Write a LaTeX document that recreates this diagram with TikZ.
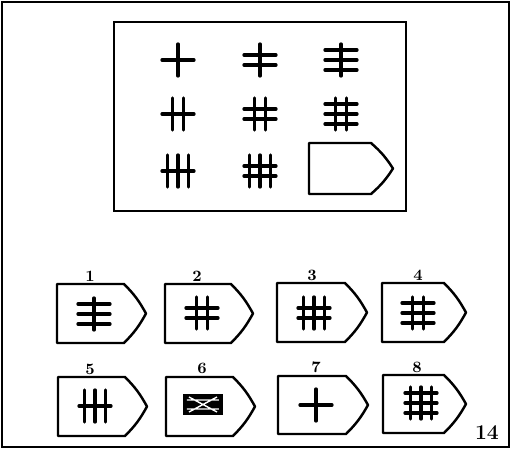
\documentclass[tikz,border=0pt]{standalone}
\usepackage{tikz}
\usetikzlibrary{calc}

\tikzset{
  symline/.style={line width=1.9pt, line cap=round},
  tagline/.style={line width=1.4pt, line join=round},
  numlabel/.style={font=\bfseries\small, inner sep=0pt}
}

% strokes: centre x, centre y, vertical count, horizontal count
\newcommand{\hashsym}[4]{%
  \foreach \i in {1,...,#3}
    \draw[symline] ({#1+(\i-(#3+1)/2)*10.5},{#2-16}) -- ++(0,32);
  \foreach \j in {1,...,#4}
    \draw[symline] ({#1-16},{#2+(\j-(#4+1)/2)*10}) -- ++(32,0);
}
% tag shaped box: left, top, width, height
\newcommand{\tagbox}[4]{%
  \draw[tagline] (#1,#2) -- ({#1+#3-22},#2) to[bend left=8] ({#1+#3},{#2+#4/2})
    to[bend left=8] ({#1+#3-22},{#2+#4}) -- (#1,{#2+#4}) -- cycle;
}

\begin{document}
\begin{tikzpicture}[x=0.02cm,y=-0.02cm]
    \useasboundingbox (0,0) rectangle (512,450);
    \draw[line width=0.8pt] (2,2) rectangle (509,447);

    % matrix
    \draw[line width=1.2pt] (114,22) rectangle (406,211);
    \hashsym{178}{60}{1}{1}
    \hashsym{260}{60}{1}{2}
    \hashsym{341}{60}{1}{3}
    \hashsym{178}{114}{2}{1}
    \hashsym{260}{114}{2}{2}
    \hashsym{341}{114}{2}{3}
    \hashsym{178}{171}{3}{1}
    \hashsym{260}{171}{3}{2}
    \tagbox{309}{143}{84}{51}

    % answers, first row
    \tagbox{57}{284}{89}{59}
    \tagbox{165}{284}{88}{59}
    \tagbox{277}{283}{90}{59}
    \tagbox{382}{283}{84}{59}
    \hashsym{94}{314}{1}{3}
    \hashsym{202}{313}{2}{2}
    \hashsym{314}{313}{3}{2}
    \hashsym{418}{313}{2}{3}
    \node[numlabel] (opt1) at (90,276) {1};
    \node[numlabel] (opt2) at (197,276) {2};
    \node[numlabel] (opt3) at (312,275) {3};
    \node[numlabel] (opt4) at (418,275) {4};

    % answers, second row
    \tagbox{58}{377}{89}{59}
    \tagbox{166}{377}{89}{59}
    \tagbox{278}{376}{90}{58}
    \tagbox{383}{375}{83}{58}
    \hashsym{95}{406}{3}{1}
    \fill (183,394) rectangle (223,415);
    \draw[white, line width=0.8pt] (187,400) -- (219,400) (187,409) -- (219,409)
      (189,397) -- (217,412) (189,412) -- (217,397);
    \hashsym{316}{405}{1}{1}
    \hashsym{421}{403}{3}{3}
    \node[numlabel] (opt5) at (90,369) {5};
    \node[numlabel] (opt6) at (202,368) {6};
    \node[numlabel] (opt7) at (316,367) {7};
    \node[numlabel] (opt8) at (417,367) {8};

    \node[font=\bfseries\large, inner sep=0pt] (page) at (487,433) {14};
\end{tikzpicture}
\end{document}
